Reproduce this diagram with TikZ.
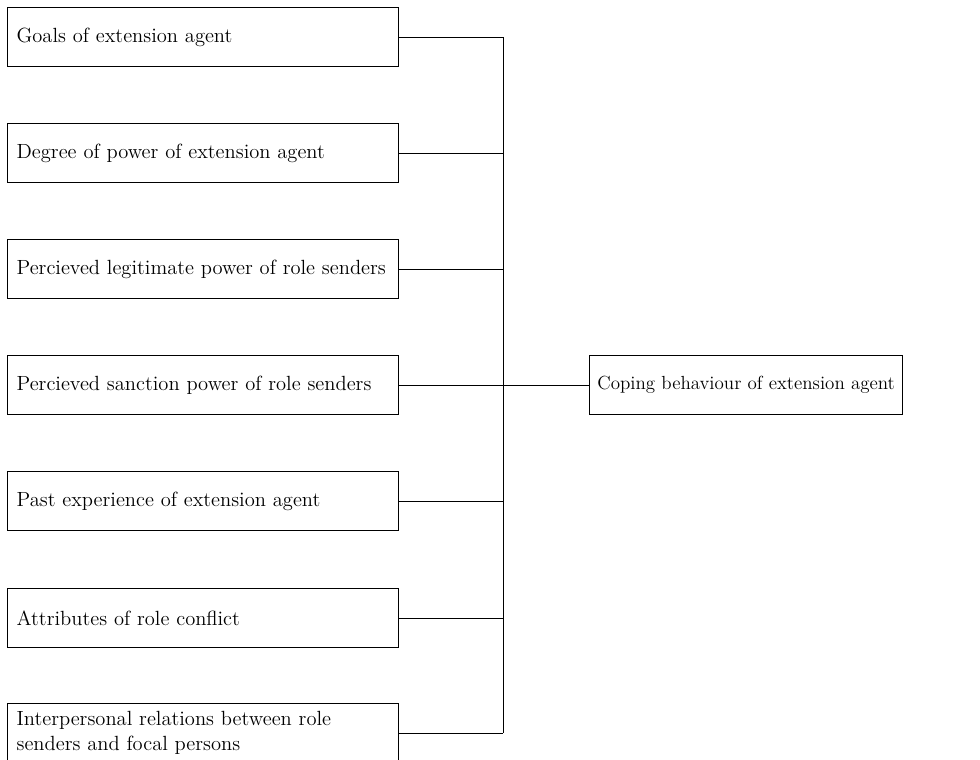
\documentclass[tikz,border=0pt]{standalone}
\usetikzlibrary{calc}

\begin{document}
\begin{tikzpicture}[x=0.025cm, y=-0.025cm,
    factor/.style={draw, line width=0.9pt, anchor=north west, minimum width=9.775cm,
        minimum height=1.475cm, text width=9.325cm, inner xsep=0.225cm, align=left,
        font=\fontsize{14.6}{17.8}\selectfont},
    outcome/.style={draw, line width=0.9pt, anchor=north west, minimum width=7.825cm,
        minimum height=1.475cm, align=center, font=\fontsize{13.5}{17.8}\selectfont},
    link/.style={line width=0.6pt}]
        % Frame
        \useasboundingbox (0,0) rectangle (980,759);

        % Factors
        \node[factor] (goals) at (7,7) {Goals of extension agent};
        \node[factor] (degree) at (7,123) {Degree of power of extension agent};
        \node[factor] (legit) at (7,239) {Percieved legitimate power of role senders};
        \node[factor] (sanction) at (7,355) {Percieved sanction power of role senders};
        \node[factor] (past) at (7,471) {Past experience of extension agent};
        \node[factor] (attrib) at (7,588) {Attributes of role conflict};
        \node[factor] (inter) at (7,703) {Interpersonal relations between role\\senders and focal persons};

        % Outcome
        \node[outcome] (coping) at (589,355) {Coping behaviour of extension agent};

        % Bus
        \coordinate (bus) at (503,0);
        \draw[link] (goals.east -| bus) -- (inter.east -| bus);
        \foreach \f in {goals, degree, legit, past, attrib, inter}
            \draw[link] (\f.east) -- (\f.east -| bus);
        \draw[link] (sanction.east) -- (coping.west);

    \end{tikzpicture}
\end{document}
